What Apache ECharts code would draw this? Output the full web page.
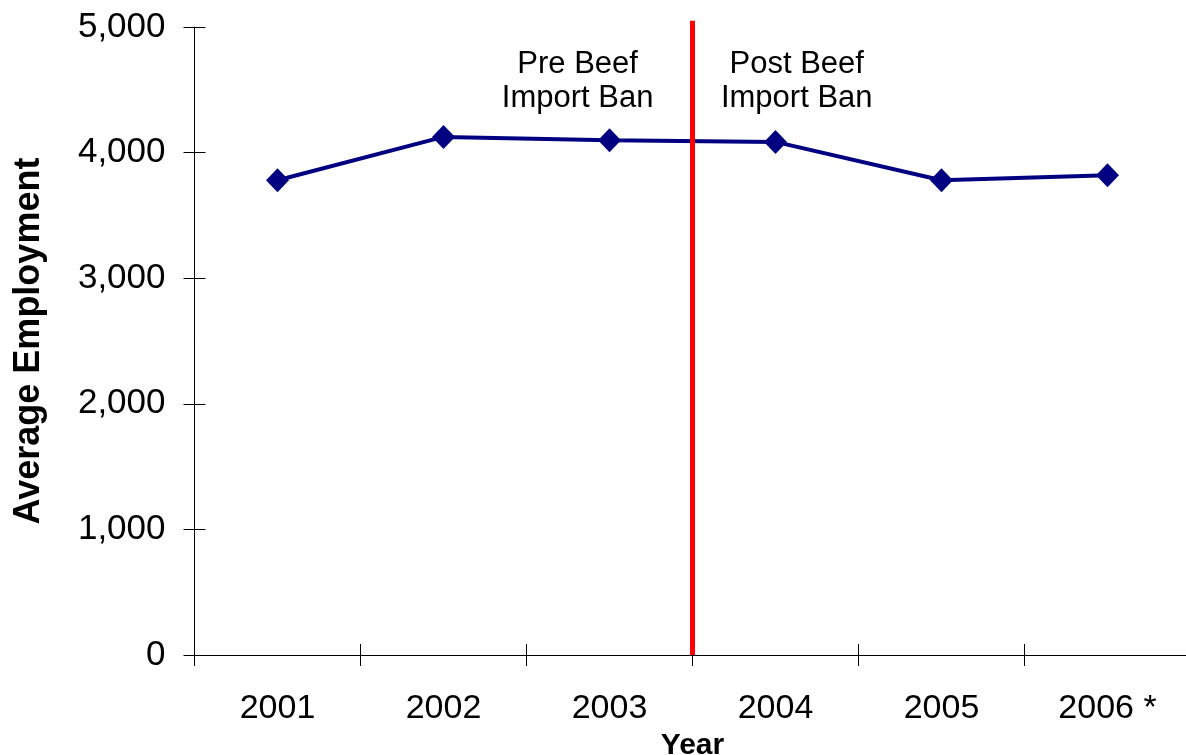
<!DOCTYPE html>
<html>
<head>
<meta charset="utf-8">
<script src="https://cdn.jsdelivr.net/npm/echarts@6/dist/echarts.min.js"></script>
<style>
  html, body { margin: 0; padding: 0; background: #fff; }
  #chart { width: 1186px; height: 755px; }
</style>
</head>
<body>
<div id="chart"></div>
<script>
// Average employment by year, before and after the beef import ban
const years = ['2001', '2002', '2003', '2004', '2005', '2006 *'];
const employment = [3780, 4125, 4098, 4085, 3780, 3820];
const yTicks = [0, 1000, 2000, 3000, 4000, 5000];
const banBoundary = 3;            // boundary between 2003 and 2004 (in category-band units)
const preLabel = 'Pre Beef\nImport Ban';
const postLabel = 'Post Beef\nImport Ban';

const FONT = '"Liberation Sans", Arial, sans-serif';
const chart = echarts.init(document.getElementById('chart'));

const grid = { left: 194.5, top: 27, width: 996, height: 628, outerBoundsMode: 'none', containLabel: false };
const yMin = yTicks[0], yMax = yTicks[yTicks.length - 1];
const yStep = yTicks[1] - yTicks[0];

const baseY = {
  type: 'value', min: yMin, max: yMax, interval: yStep,
  position: 'left', splitLine: { show: false }
};

chart.setOption({
  animation: false,
  backgroundColor: '#fff',
  grid: grid,
  xAxis: [
    {
      type: 'category', data: years, boundaryGap: true, position: 'bottom',
      axisLine: { lineStyle: { color: '#000', width: 1 } },
      axisTick: { show: true, length: 11, lineStyle: { color: '#000' } },
      axisLabel: { color: '#000', fontFamily: FONT, fontSize: 34, margin: 37 },
      name: 'Year', nameLocation: 'middle', nameGap: 76,
      nameTextStyle: { color: '#000', fontFamily: FONT, fontSize: 30, fontWeight: 'bold' }
    },
    {
      // inward half of the crossing tick marks
      type: 'category', data: years, boundaryGap: true, position: 'bottom',
      axisLine: { show: false },
      axisTick: { show: true, inside: true, length: 11, lineStyle: { color: '#000' } },
      axisLabel: { show: false }
    },
    {
      // band-unit axis used to place the ban divider
      type: 'value', min: 0, max: years.length, position: 'bottom',
      show: false
    }
  ],
  yAxis: [
    Object.assign({}, baseY, {
      axisLine: { show: true, lineStyle: { color: '#000', width: 1 } },
      axisTick: { show: true, length: 11, lineStyle: { color: '#000' } },
      axisLabel: {
        color: '#000', fontFamily: FONT, fontSize: 35, margin: 29,
        padding: [5, 0, 0, 0],
        formatter: v => v.toLocaleString('en-US')
      },
      name: 'Average Employment', nameLocation: 'middle', nameGap: 147,
      nameRotate: 90,
      nameTextStyle: { color: '#000', fontFamily: FONT, fontSize: 36, fontWeight: 'bold' }
    }),
    Object.assign({}, baseY, {
      axisLine: { show: false },
      axisTick: { show: true, inside: true, length: 11, lineStyle: { color: '#000' } },
      axisLabel: { show: false }
    })
  ],
  series: [
    {
      type: 'line', name: 'Average Employment',
      xAxisIndex: 0, yAxisIndex: 0,
      data: employment,
      symbol: 'diamond', symbolSize: [23, 24],
      lineStyle: { color: '#000080', width: 4 },
      itemStyle: { color: '#000080' },
      z: 3
    },
    {
      type: 'line', name: 'ban',
      xAxisIndex: 2, yAxisIndex: 0,
      data: [[banBoundary, yMin], [banBoundary, yMax + 50]],
      clip: false, symbol: 'none', silent: true,
      lineStyle: { color: '#ff0000', width: 5 },
      z: 4
    }
  ]
});

// Period annotations on either side of the divider
const pre = chart.convertToPixel({ xAxisIndex: 2, yAxisIndex: 0 }, [2.308, 4570]);
const post = chart.convertToPixel({ xAxisIndex: 2, yAxisIndex: 0 }, [3.628, 4570]);
const annStyle = {
  fill: '#000', font: '31px ' + FONT, textAlign: 'center',
  textVerticalAlign: 'middle', lineHeight: 34
};
chart.setOption({
  graphic: [
    { type: 'text', x: pre[0], y: pre[1], style: Object.assign({ text: preLabel }, annStyle) },
    { type: 'text', x: post[0], y: post[1], style: Object.assign({ text: postLabel }, annStyle) }
  ]
});
</script>
</body>
</html>
